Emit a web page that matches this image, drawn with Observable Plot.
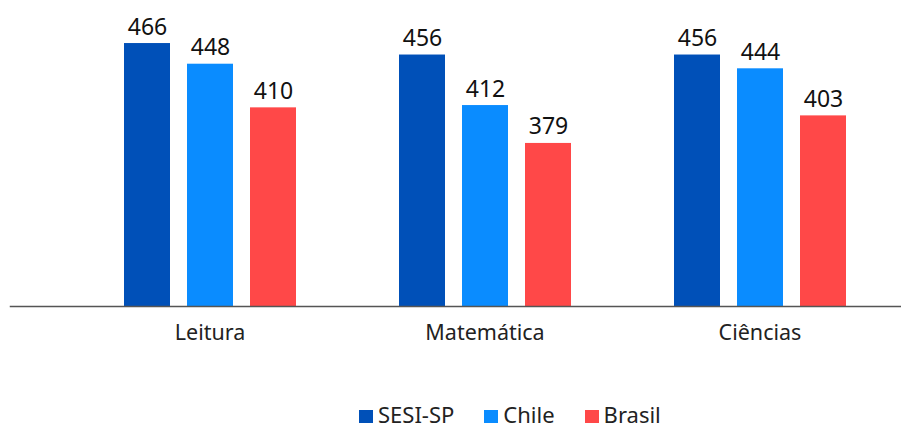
<!DOCTYPE html>
<html><head><meta charset="utf-8">
<script src="https://cdn.jsdelivr.net/npm/d3@7"></script>
<script src="https://cdn.jsdelivr.net/npm/@observablehq/plot@0.6"></script>
<style>
body{margin:0;background:#fff;font-family:"Noto Sans",sans-serif;overflow:hidden;}
#legend{position:absolute;top:403px;left:359px;display:flex;align-items:center;font-family:"Noto Sans",sans-serif;font-size:22px;line-height:22px;color:#222;white-space:nowrap;}
.item{display:flex;align-items:center;margin-right:30px;}
.item svg{position:relative;top:2.5px;margin-right:5px;}
</style></head><body>
<div id="chart"></div>
<div id="legend"></div>
<script>
const subjects = ["Leitura", "Matemática", "Ciências"];
const series = ["SESI-SP", "Chile", "Brasil"];
const colors = ["#0050B8", "#0A8CFF", "#FF4848"];
const sesi = [466, 456, 456];
const chile = [448, 412, 444];
const brasil = [410, 379, 403];

const values = [sesi, chile, brasil];
const data = [];
subjects.forEach((s, i) => series.forEach((k, j) => data.push({subject: s, series: k, value: values[j][i]})));

const H = 370;
const plot = Plot.plot({
  width: 901, height: H,
  marginTop: 4, marginBottom: H - 306, marginLeft: 10, marginRight: 4,
  style: {fontFamily: "Noto Sans", fontSize: "21.5px", color: "#222", background: "#fff"},
  fx: {domain: subjects, paddingInner: 0, paddingOuter: 0.1127, align: 1, label: null, tickSize: 0, tickPadding: 18},
  x: {domain: series, paddingInner: 0.2756, paddingOuter: 0.803, axis: null},
  y: {domain: [237, 500], clamp: true, axis: null},
  color: {domain: series, range: colors},
  marks: [
    Plot.barY(data, {fx: "subject", x: "series", y: "value", fill: "series"}),
    Plot.text(data, {fx: "subject", x: "series", y: "value", text: d => String(d.value), lineAnchor: "bottom", dy: -9, fontSize: 23, fill: "#111"}),
    Plot.frame({anchor: "bottom", facet: "super", stroke: "#555", strokeWidth: 1.5, insetLeft: -62, insetRight: -4})
  ]
});
document.getElementById("chart").append(plot);

const lg = document.getElementById("legend");
series.forEach((s, i) => {
  const it = document.createElement("div");
  it.className = "item";
  it.innerHTML = `<svg width="14" height="14"><rect width="14" height="14" fill="${plot.scale("color").apply(s)}"/></svg><span>${s}</span>`;
  lg.append(it);
});
</script>
</body></html>
